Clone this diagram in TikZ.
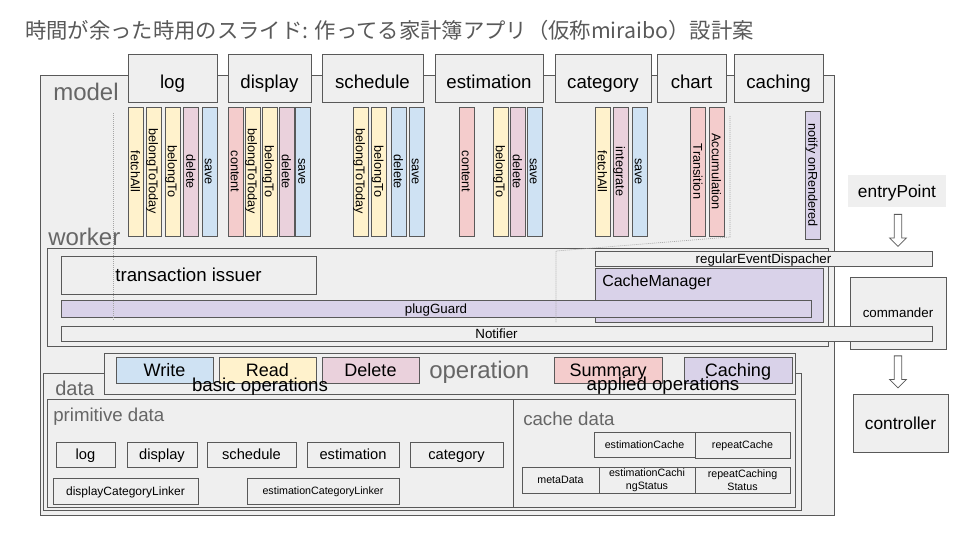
\documentclass[tikz,border=0pt]{standalone}
\usepackage{fontspec}
\setmainfont{Liberation Sans}
\newfontfamily\jpfont{Noto Sans CJK JP}
\usetikzlibrary{shapes.arrows}
\definecolor{boxgray}{HTML}{EFEFEF}
\definecolor{linegray}{HTML}{595959}
\definecolor{labelgray}{HTML}{666666}
\definecolor{cyel}{HTML}{FFF2CC}
\definecolor{cpink}{HTML}{EAD1DC}
\definecolor{cblue}{HTML}{CFE2F3}
\definecolor{cred}{HTML}{F4CCCC}
\definecolor{cpurple}{HTML}{D9D2E9}
\begin{document}
\begin{tikzpicture}[x=0.75pt,y=-0.75pt,every node/.style={inner sep=0pt},
	box/.style={draw=linegray,fill=boxgray,line width=0.6pt},
	sz/.style 2 args={minimum width=#1*0.75pt,minimum height=#2*0.75pt},
	fsz/.style={font=\fontsize{#1}{#1}\selectfont,text height=0.72*#1pt,text depth=0pt},
	bar/.style={box,rotate=-90,minimum width=129*0.75pt,minimum height=15*0.75pt,font=\fontsize{9.5}{10}\selectfont,text height=6.8pt,text depth=0pt},
	grouplabel/.style={text=labelgray,anchor=base west},
	downarrow/.style={single arrow,draw=linegray,fill=white,line width=0.6pt,rotate=-90,minimum height=32*0.75pt,minimum width=12pt,single arrow head extend=3.5pt,inner sep=2.5pt},
	dotline/.style={draw=gray!70,line width=0.5pt,dash pattern=on 0.75pt off 0.75pt}]
	\fill[white] (0,0) rectangle (960,540);
	\useasboundingbox (0,0) rectangle (960,540);
	\node[anchor=west,text=linegray,font=\jpfont\fontsize{16}{16}\selectfont] (title) at (25,30) {時間が余った時用のスライド: 作ってる家計簿アプリ（仮称miraibo）設計案};
	% model
	\node[box,sz={794}{440}] (model) at (437,295) {};
	\foreach \x/\w/\t in {172.5/89/log,269.5/83/display,372.5/101/schedule,489/108/estimation,603/96/category,691.5/69/chart,778.5/89/caching}
		\node[box,sz={\w}{48},fsz=14,text height=15pt] (tab-\t) at (\x,78) {\t};
	\foreach \x/\col/\t in {135.5/cyel/fetchAll,153.5/cyel/belongToToday,172.5/cyel/belongTo,191/cpink/delete,209.5/cblue/save}
		\node[bar,fill=\col] (log-\t) at (\x,171.5) {\t};
	\foreach \x/\col/\t in {235.5/cred/content,252.5/cyel/belongToToday,269.5/cyel/belongTo,286.5/cpink/delete,303/cblue/save}
		\node[bar,fill=\col] (display-\t) at (\x,171.5) {\t};
	\foreach \x/\col/\t in {360.5/cyel/belongToToday,379/cyel/belongTo,398.5/cblue/delete,416.5/cblue/save}
		\node[bar,fill=\col] (schedule-\t) at (\x,171.5) {\t};
	\foreach \x/\col/\t in {466.5/cred/content,500.5/cyel/belongTo,517.5/cpink/delete,534.5/cblue/save}
		\node[bar,fill=\col] (estimation-\t) at (\x,171.5) {\t};
	\foreach \x/\col/\t in {602.5/cyel/fetchAll,620.5/cpink/integrate,639.5/cblue/save}
		\node[bar,fill=\col] (category-\t) at (\x,171.5) {\t};
	\foreach \x/\col/\t in {698/cred/Transition,716.5/cred/Accumulation}
		\node[bar,fill=\col] (chart-\t) at (\x,171.5) {\t};
	\node[bar,fill=cpurple,minimum width=128*0.75pt] (caching-notify) at (813,175) {notify onRendered};
	% worker
	\node[box,sz={781}{98}] (worker) at (437.5,297) {};
	\node[box,sz={255}{38},fsz=14] (issuer) at (188.5,275) {transaction issuer};
	\node[box,sz={337}{15},fsz=10] (dispatcher) at (763.5,258.5) {regularEventDispacher};
	\node[box,fill=cpurple,sz={228}{54}] (cachemanager) at (709,295) {};
	\node[fsz=12,anchor=base west] (cachemanager-label) at (602,286) {CacheManager};
	\node[box,fill=cpurple,sz={750}{17},fsz=10] (plugguard) at (436,308.5) {plugGuard};
	\node[box,sz={96}{72},fsz=10] (commander) at (898,313) {commander};
	\node[box,sz={871}{15},fsz=10] (notifier) at (496.5,333.5) {Notifier};
	\draw[dotline] (113,113) -- (113,321);
	\draw[dotline] (730,116) -- (730,237) -- (556,251) -- (556,322);
	% entry side
	\node[fill=boxgray,sz={98}{32},fsz=13] (entry) at (897,191) {entryPoint};
	\node[downarrow] (entry-arrow) at (898,228.5) {};
	\node[downarrow] (commander-arrow) at (898,370) {};
	\node[box,sz={95}{58},fsz=13] (controller) at (900.5,423) {controller};
	% data
	\node[box,sz={758}{137}] (data) at (422,441.5) {};
	\node[box,sz={691}{41}] (operation) at (449.5,373.5) {};
	\foreach \x/\w/\col/\t in {164.5/97/cblue/Write,267.5/97/cyel/Read,370.5/97/cpink/Delete,608/108/cred/Summary,738/108/cpurple/Caching}
		\node[box,fill=\col,sz={\w}{26},fsz=13.5] (op-\t) at (\x,370) {\t};
	\node[fsz=14,anchor=base] (basic-label) at (260,391) {basic operations};
	\node[fsz=14,anchor=base] (applied-label) at (663,390) {applied operations};
	\node[box,sz={466}{108}] (primitive) at (280,453) {};
	\node[box,sz={282}{108}] (cachedata) at (654,453) {};
	\foreach \x/\w/\t in {85.5/59/log,162/70/display,251.5/89/schedule,353/92/estimation,456.5/93/category}
		\node[box,sz={\w}{25},fsz=11] (prim-\t) at (\x,454.5) {\t};
	\node[box,sz={145}{26},fsz=9] (prim-displaylinker) at (125.5,491) {displayCategoryLinker};
	\node[box,sz={152}{26},fsz=8] (prim-estimationlinker) at (323,491) {estimationCategoryLinker};
	\node[box,sz={101}{25},fsz=8] (cache-estimation) at (644.5,444.5) {estimationCache};
	\node[box,sz={95}{26},fsz=8] (cache-repeat) at (742.5,445) {repeatCache};
	\node[box,sz={77}{26},fsz=8] (cache-meta) at (560.5,480) {metaData};
	\node[box,sz={96}{26},align=center,font=\fontsize{8}{9.5}\selectfont] (cache-estimationstatus) at (647,480) {estimationCachi\\ngStatus};
	\node[box,sz={95}{26},align=center,font=\fontsize{8}{9.5}\selectfont] (cache-repeatstatus) at (742.5,480) {repeatCaching\\Status};
	% group labels
	\node[grouplabel,fsz=18] (model-label) at (53,100) {model};
	\node[grouplabel,fsz=18] (worker-label) at (48,245) {worker};
	\node[grouplabel,fsz=15] (data-label) at (55,395) {data};
	\node[grouplabel,fsz=18] (operation-label) at (429,378) {operation};
	\node[grouplabel,fsz=14] (primitive-label) at (53,421) {primitive data};
	\node[grouplabel,fsz=14] (cache-label) at (523,425) {cache data};
\end{tikzpicture}
\end{document}
